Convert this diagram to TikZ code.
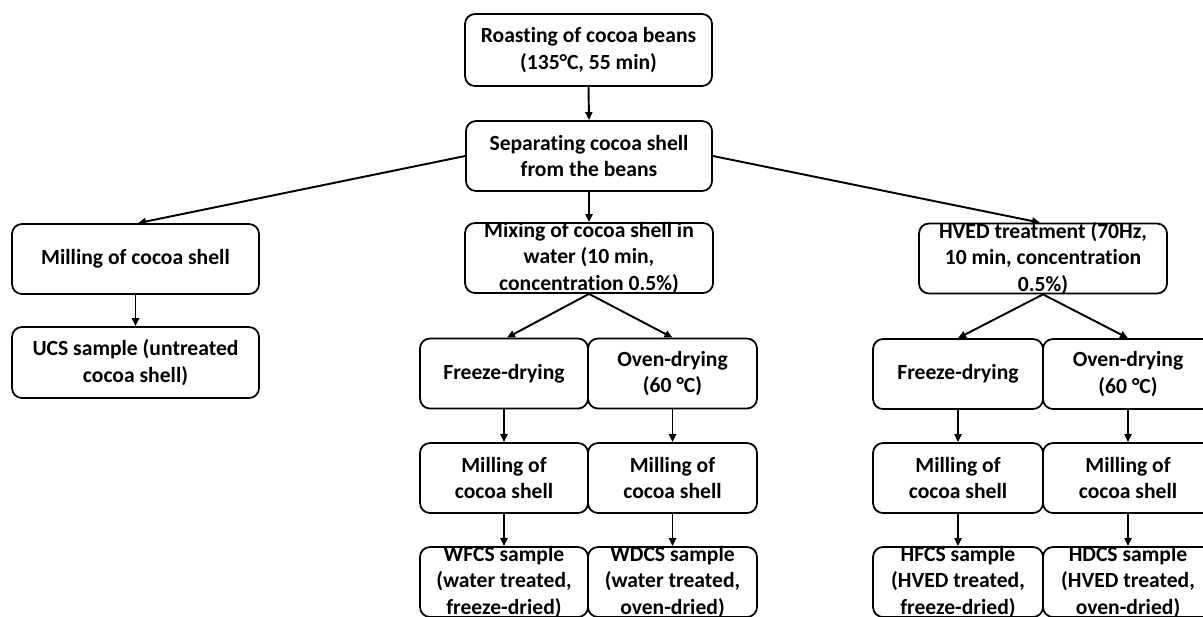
\documentclass[tikz,border=0pt]{standalone}
\usepackage{fontspec}
\setmainfont{Carlito}[Ligatures=NoCommon]
\usetikzlibrary{arrows.meta}
\begin{document}
\begin{tikzpicture}[x=0.02cm,y=-0.02cm,
  box/.style={draw, line width=1pt, rounded corners=10*0.02cm, inner sep=0pt, minimum height=70*0.02cm},
  txt/.style={align=center, inner sep=0pt, font=\fontsize{12.3pt}{15.2pt}\selectfont\bfseries},
  arr/.style={-{Triangle[length=8*0.02cm,width=7*0.02cm]}, line width=1.1pt}]
\useasboundingbox (0,0) rectangle (1203,616);
% boxes
\node[box, minimum width=247*0.02cm, minimum height=72*0.02cm] (roast) at (588.5,50) {};
\node[box, minimum width=246*0.02cm] (sep) at (589,156) {};
\node[box, minimum width=247*0.02cm] (mill) at (135.5,259) {};
\node[box, minimum width=247*0.02cm, minimum height=71*0.02cm] (ucs) at (135.5,362.5) {};
\node[box, minimum width=248*0.02cm] (mix) at (589,258) {};
\node[box, minimum width=248*0.02cm] (hved) at (1043,258.5) {};
\node[box, minimum width=168*0.02cm] (fz1) at (504,373.5) {};
\node[box, minimum width=169*0.02cm] (ov1) at (672.5,373.5) {};
\node[box, minimum width=170*0.02cm] (fz2) at (958,374) {};
\node[box, minimum width=170*0.02cm] (ov2) at (1128,374) {};
\node[box, minimum width=168*0.02cm] (ml1) at (504,478) {};
\node[box, minimum width=169*0.02cm] (ml2) at (672.5,478) {};
\node[box, minimum width=170*0.02cm] (ml3) at (958,478) {};
\node[box, minimum width=170*0.02cm] (ml4) at (1128,478) {};
\node[box, minimum width=168*0.02cm] (s1) at (504,582) {};
\node[box, minimum width=169*0.02cm] (s2) at (672.5,582) {};
\node[box, minimum width=170*0.02cm] (s3) at (958,582) {};
\node[box, minimum width=170*0.02cm] (s4) at (1128,582) {};
% texts
\node[txt] (troast) at (roast) {Roasting of cocoa beans\\(135°C, 55 min)};
\node[txt] (tsep) at (sep) {Separating cocoa shell\\from the beans};
\node[txt] (tmill) at (mill) {Milling of cocoa shell};
\node[txt] (tucs) at (ucs) {UCS sample (untreated\\cocoa shell)};
\node[txt] (tmix) at (mix) {Mixing of cocoa shell in\\water (10 min,\\concentration 0.5\%)};
\node[txt] (thved) at (hved) {HVED treatment (70Hz,\\10 min, concentration\\0.5\%)};
\node[txt] (tfz1) at (fz1) {Freeze-drying};
\node[txt] (tov1) at (ov1) {Oven-drying\\(60 °C)};
\node[txt] (tfz2) at (fz2) {Freeze-drying};
\node[txt] (tov2) at (ov2) {Oven-drying\\(60 °C)};
\node[txt] (tml1) at (ml1) {Milling of\\cocoa shell};
\node[txt] (tml2) at (ml2) {Milling of\\cocoa shell};
\node[txt] (tml3) at (ml3) {Milling of\\cocoa shell};
\node[txt] (tml4) at (ml4) {Milling of\\cocoa shell};
\node[txt] (ts1) at (s1) {WFCS sample\\(water treated,\\freeze-dried)};
\node[txt] (ts2) at (s2) {WDCS sample\\(water treated,\\oven-dried)};
\node[txt] (ts3) at (s3) {HFCS sample\\(HVED treated,\\freeze-dried)};
\node[txt] (ts4) at (s4) {HDCS sample\\(HVED treated,\\oven-dried)};
% connectors
\draw[arr] (roast.south) -- (sep.north);
\draw[arr] (sep.west) -- ([xshift=2.5*0.02cm]mill.north);
\draw[arr] (sep.east) -- ([xshift=-3*0.02cm]hved.north);
\draw[arr] (sep.south) -- (mix.north);
\draw[arr] (mill.south) -- (ucs.north);
\draw[arr] (mix.south) -- ([xshift=3*0.02cm]fz1.north);
\draw[arr] (mix.south) -- (ov1.north);
\draw[arr] (hved.south) -- (fz2.north);
\draw[arr] (hved.south) -- (ov2.north);
\draw[arr] (fz1.south) -- (ml1.north);
\draw[arr] (ov1.south) -- (ml2.north);
\draw[arr] (fz2.south) -- (ml3.north);
\draw[arr] (ov2.south) -- (ml4.north);
\draw[arr] (ml1.south) -- (s1.north);
\draw[arr] (ml2.south) -- (s2.north);
\draw[arr] (ml3.south) -- (s3.north);
\draw[arr] (ml4.south) -- (s4.north);
\end{tikzpicture}
\end{document}
